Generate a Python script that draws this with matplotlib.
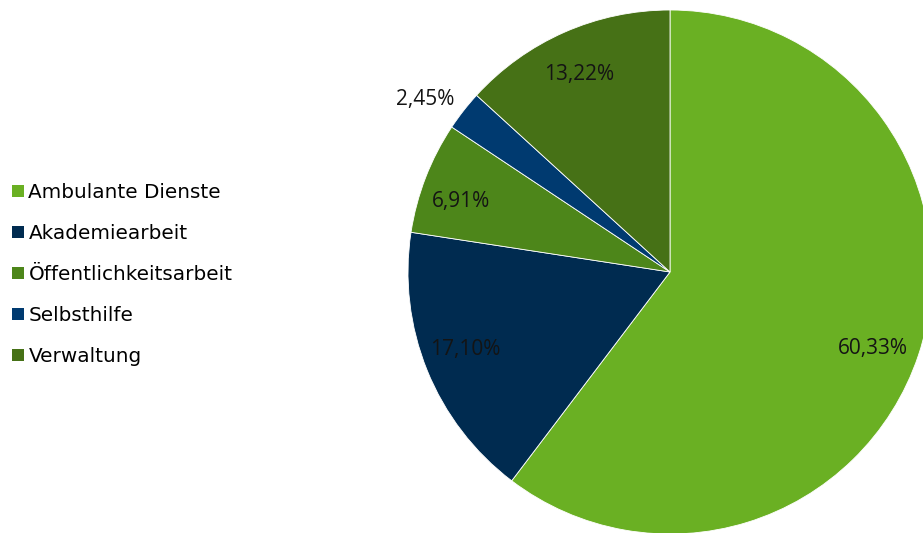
import matplotlib
matplotlib.use("Agg")
import matplotlib.pyplot as plt
import numpy as np
from matplotlib.patches import Patch

categories = ["Ambulante Dienste", "Akademiearbeit", "Öffentlichkeitsarbeit", "Selbsthilfe", "Verwaltung"]
values = [60.33, 17.10, 6.91, 2.45, 13.22]
labels = ["60,33%", "17,10%", "6,91%", "2,45%", "13,22%"]
colors = ["#6ab023", "#002b50", "#4d861a", "#003a70", "#467116"]

W, H = 923, 533
fig = plt.figure(figsize=(W / 100, H / 100), dpi=100)
cx, cy, r = 670, 272, 262
ax = fig.add_axes([(cx - r) / W, (H - cy - r) / H, 2 * r / W, 2 * r / H])
wedges, _ = ax.pie(values, colors=colors, startangle=90, counterclock=False,
                   radius=1.0, wedgeprops=dict(edgecolor="white", linewidth=0.6))
ax.set_xlim(-1, 1)
ax.set_ylim(-1, 1)
ax.set_aspect("equal")
ax.axis("off")

# label placement: distance (fraction of radius) and angular nudge (degrees)
dists = [0.825, 0.833, 0.845, 1.148, 0.838]
nudges = [-1.4, -1.9, 1.9, 2.5, 0.8]
for w, lab, d, n in zip(wedges, labels, dists, nudges):
    ang = np.deg2rad((w.theta1 + w.theta2) / 2 + n)
    ax.text(d * np.cos(ang), d * np.sin(ang), lab, ha="center", va="center_baseline",
            fontsize=15, family="Open Sans", color="#141414", clip_on=False)

handles = [Patch(facecolor=c, edgecolor="none") for c in colors]
fig.legend(handles, categories, loc="center left", bbox_to_anchor=(12 / W, (H - 274.3) / H),
           frameon=False, prop=dict(family="DejaVu Sans", size=14.4),
           handlelength=0.6, handleheight=0.55, handletextpad=0.22,
           labelspacing=1.1, borderpad=0, borderaxespad=0)

fig.savefig("out.png", dpi=100)
